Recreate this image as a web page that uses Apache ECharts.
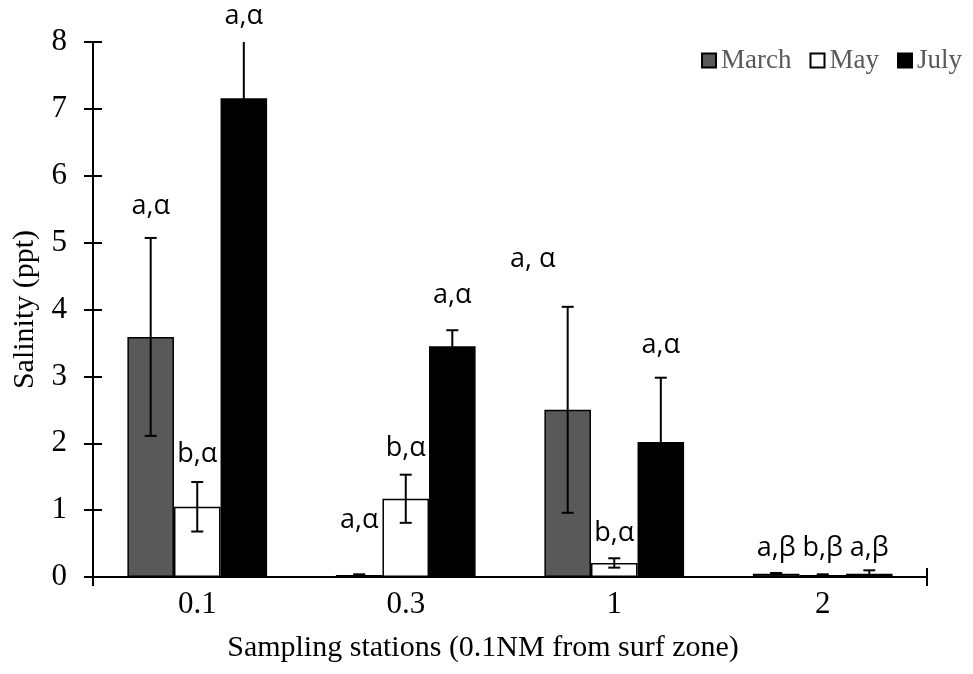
<!DOCTYPE html>
<html><head><meta charset="utf-8">
<script src="https://cdn.jsdelivr.net/npm/echarts@6/dist/echarts.min.js"></script>
<style>html,body{margin:0;padding:0;background:#fff}#c{width:973px;height:674px}</style>
</head><body><div id="c"></div>
<script>
// ---- data ----
const categories = ['0.1', '0.3', '1', '2'];
const seriesNames = ['March', 'May', 'July'];
const marchMean = [3.59, 0.03, 2.50, 0.05];
const mayMean   = [1.05, 1.17, 0.21, 0.03];
const julyMean  = [7.16, 3.45, 2.02, 0.05];
const marchErr  = [1.48, 0.01, 1.54, 0.01];
const mayErr    = [0.37, 0.36, 0.07, 0.01];
const julyErr   = [0.90, 0.24, 0.96, 0.05];
const marchLetters = ['a,α', 'a,α', 'a, α', 'a,β'];
const mayLetters   = ['b,α', 'b,α', 'b,α', 'b,β'];
const julyLetters  = ['a,α', 'a,α', 'a,α', 'a,β'];
const marchLetterY = [5.55, 0.85, 4.75, 0.43];
const mayLetterY   = [1.84, 1.93, 0.66, 0.43];
const julyLetterY  = [8.39, 4.21, 3.46, 0.43];
const yTicks = [0, 1, 2, 3, 4, 5, 6, 7, 8];

// ---- style ----
const GAP = 0.33;
const SERIF = 'Liberation Serif';
const colors = ['#595959', '#ffffff', '#000000'];
const letterShift = { '0-2': -35 };
const Y_MAX = yTicks[yTicks.length - 1];

const means = [marchMean, mayMean, julyMean];
const errs = [marchErr, mayErr, julyErr];
const letters = [marchLetters, mayLetters, julyLetters];
const letterY = [marchLetterY, mayLetterY, julyLetterY];

const errData = [], letterData = [];
means.forEach((m, si) => m.forEach((v, ci) => {
  errData.push([ci, v - errs[si][ci], v + errs[si][ci], si]);
  letterData.push([ci, letterY[si][ci], si, letters[si][ci]]);
}));

function barX(api, ci, si) {
  const band = api.size([1, 0])[0];
  const bw = band * (1 - GAP) / 3;
  return api.coord([ci, 0])[0] + (si - 1) * bw;
}

function renderErr(params, api) {
  const ci = api.value(0), lo = api.value(1), hi = api.value(2), si = api.value(3);
  const cx = barX(api, ci, si);
  const yLo = api.coord([ci, Math.max(lo, 0)])[1];
  const yHi = api.coord([ci, Math.min(hi, Y_MAX)])[1];
  const st = { stroke: '#000', lineWidth: 2 };
  const cap = 6;
  const ch = [{ type: 'line', shape: { x1: cx, y1: yLo, x2: cx, y2: yHi }, style: st }];
  if (hi <= Y_MAX) ch.push({ type: 'line', shape: { x1: cx - cap, y1: yHi, x2: cx + cap, y2: yHi }, style: st });
  if (lo >= 0) ch.push({ type: 'line', shape: { x1: cx - cap, y1: yLo, x2: cx + cap, y2: yLo }, style: st });
  return { type: 'group', children: ch };
}

function renderLetter(params, api) {
  const ci = api.value(0), y = api.value(1), si = api.value(2);
  const txt = letterData[params.dataIndex][3];
  const shift = letterShift[si + '-' + ci] || 0;
  const cx = barX(api, ci, si) + shift;
  const cy = api.coord([ci, y])[1];
  return {
    type: 'text', x: cx, y: cy,
    style: { text: txt, fill: '#000', font: '27px "Open Sans"', align: 'center', verticalAlign: 'middle' }
  };
}

const axisLineStyle = { color: '#000', width: 2 };
const chart = echarts.init(document.getElementById('c'), null, { renderer: 'canvas' });
chart.setOption({
  animation: false,
  backgroundColor: '#fff',
  grid: { left: 93, right: 46, top: 42, bottom: 97, containLabel: false },
  legend: {
    data: seriesNames, right: 6, top: 42, icon: 'rect', itemWidth: 14, itemHeight: 14, itemGap: 18,
    textStyle: { fontFamily: SERIF, fontSize: 27, color: '#595959' }
  },
  xAxis: [
    {
      type: 'category', data: categories, position: 'bottom',
      axisLine: { lineStyle: axisLineStyle },
      axisTick: { alignWithLabel: true, length: 9, lineStyle: axisLineStyle },
      axisLabel: { fontFamily: SERIF, fontSize: 31, color: '#000', margin: 12 },
      name: 'Sampling stations (0.1NM from surf zone)', nameLocation: 'middle', nameGap: 56,
      nameTextStyle: { fontFamily: SERIF, fontSize: 30, color: '#000', padding: [0, 54, 0, 0] }
    },
    {
      type: 'category', data: categories, position: 'bottom',
      axisLine: { show: false },
      axisTick: { alignWithLabel: true, inside: true, length: 9, lineStyle: axisLineStyle },
      axisLabel: { show: false }
    },
    {
      type: 'value', min: 0, max: 1, interval: 1, position: 'bottom',
      axisLine: { show: false }, splitLine: { show: false },
      axisTick: { length: 9, lineStyle: axisLineStyle }, axisLabel: { show: false }
    },
    {
      type: 'value', min: 0, max: 1, interval: 1, position: 'bottom',
      axisLine: { show: false }, splitLine: { show: false },
      axisTick: { inside: true, length: 9, lineStyle: axisLineStyle }, axisLabel: { show: false }
    }
  ],
  yAxis: [
    {
      type: 'value', min: yTicks[0], max: Y_MAX, interval: 1, position: 'left',
      axisLine: { show: true, lineStyle: axisLineStyle },
      axisTick: { show: true, length: 9, lineStyle: axisLineStyle },
      splitLine: { show: false },
      axisLabel: { fontFamily: SERIF, fontSize: 31, color: '#000', margin: 26 },
      name: 'Salinity (ppt)', nameLocation: 'middle', nameGap: 48, nameRotate: 90,
      nameTextStyle: { fontFamily: SERIF, fontSize: 30, color: '#000' }
    },
    {
      type: 'value', min: yTicks[0], max: Y_MAX, interval: 1, position: 'left',
      axisLine: { show: false },
      axisTick: { show: true, inside: true, length: 9, lineStyle: axisLineStyle },
      splitLine: { show: false }, axisLabel: { show: false }
    }
  ],
  series: [
    ...seriesNames.map((n, si) => ({
      name: n, type: 'bar', data: means[si], xAxisIndex: 0, yAxisIndex: 0,
      barGap: '0%', barCategoryGap: (GAP * 100) + '%',
      itemStyle: { color: colors[si], borderColor: '#000', borderWidth: 1.5 }
    })),
    {
      type: 'custom', name: 'err', xAxisIndex: 0, yAxisIndex: 0, renderItem: renderErr,
      data: errData, encode: { x: 0, y: [1, 2] }, z: 5, clip: false
    },
    {
      type: 'custom', name: 'letters', xAxisIndex: 0, yAxisIndex: 0, renderItem: renderLetter,
      data: letterData.map(d => d.slice(0, 3)), encode: { x: 0, y: 1 }, z: 6, clip: false
    }
  ]
});
</script></body></html>
